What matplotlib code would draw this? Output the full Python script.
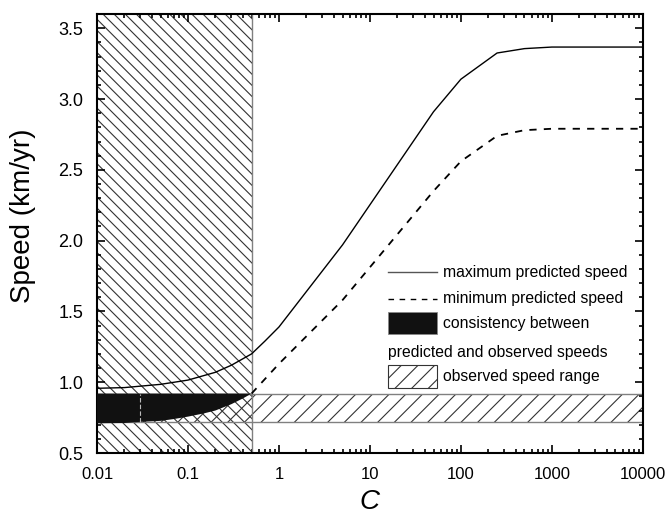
"""Predicted vs observed speed as a function of C."""
import numpy as np
import matplotlib
matplotlib.use("Agg")
import matplotlib.pyplot as plt
from matplotlib.lines import Line2D
from matplotlib.patches import Rectangle
from matplotlib.ticker import MultipleLocator, LogLocator, FixedFormatter, FixedLocator

# maximum predicted speed
c_max = [0.01, 0.02, 0.05, 0.1, 0.2, 0.3, 0.5, 0.7, 1, 5, 50, 100, 250, 500, 1000, 10000]
v_max = [0.957, 0.962, 0.985, 1.015, 1.07, 1.12, 1.2, 1.29, 1.39, 1.97, 2.91, 3.14, 3.325, 3.356, 3.367, 3.367]

# minimum predicted speed (shown dashed for C >= 0.5)
c_min = [0.5, 1, 5, 50, 100, 250, 500, 1000, 10000]
v_min = [0.92, 1.13, 1.58, 2.35, 2.56, 2.74, 2.78, 2.79, 2.79]

# lower edge of the consistency region (minimum speed for C < 0.5)
c_low = [0.01, 0.02, 0.03, 0.05, 0.07, 0.1, 0.15, 0.2, 0.3, 0.4, 0.5]
v_low = [0.71, 0.712, 0.717, 0.727, 0.74, 0.757, 0.78, 0.80, 0.845, 0.885, 0.92]

obs_low, obs_high = 0.72, 0.92   # observed speed range
c_limit = 0.5                    # hatched region C < 0.5
c_mark = 0.03

x_ticks = [0.01, 0.1, 1, 10, 100, 1000, 10000]
x_labels = ["0.01", "0.1", "1", "10", "100", "1000", "10000"]

plt.rcParams.update({
    "font.family": ["Liberation Sans", "DejaVu Sans"],
    "hatch.linewidth": 0.8,
})

fig = plt.figure(figsize=(6.71, 5.21), dpi=100)
ax = fig.add_axes([0.1446, 0.1305, 0.8134, 0.8425])

ax.set_xscale("log")
ax.set_xlim(0.01, 10000)
ax.set_ylim(0.5, 3.6)

# hatched regions
ax.axvspan(0.01, c_limit, facecolor="none", edgecolor="#333333", hatch="\\\\\\", linewidth=0, zorder=1)
ax.axhspan(obs_low, obs_high, facecolor="none", edgecolor="#333333", hatch="//", linewidth=0, zorder=1)
ax.axhline(obs_low, color="#808080", lw=1.0, zorder=2)
ax.axhline(obs_high, color="#808080", lw=1.0, zorder=2)
ax.axvline(c_limit, color="#808080", lw=1.0, zorder=2)

# consistency region
low = np.array(v_low)
low[2:] = np.maximum(low[2:], obs_low)
ax.fill_between(c_low, low, obs_high, facecolor="#111111", edgecolor="none", zorder=3)
ax.vlines(c_mark, obs_low, obs_high, colors="#bbbbbb", linestyles=(0, (4, 2)), lw=0.8, zorder=4)

ax.plot(c_max, v_max, color="black", lw=1.0, zorder=5)
ax.plot(c_min, v_min, color="black", lw=1.3, ls=(0, (4, 4)), zorder=5)

# ticks
ax.xaxis.set_major_locator(FixedLocator(x_ticks))
ax.xaxis.set_major_formatter(FixedFormatter(x_labels))
ax.xaxis.set_minor_locator(LogLocator(base=10, subs=np.arange(2, 10)))
ax.yaxis.set_major_locator(MultipleLocator(0.5))
ax.yaxis.set_minor_locator(MultipleLocator(0.1))
ax.tick_params(which="both", direction="in", top=True, right=True, width=1.2)
ax.tick_params(axis="x", which="major", pad=10, labelsize=12)
ax.tick_params(axis="y", which="major", pad=10, labelsize=13)
ax.tick_params(which="major", length=6)
ax.tick_params(which="minor", length=3)
for s in ax.spines.values():
    s.set_linewidth(1.5)

ax.set_xlabel("C", fontsize=20, fontstyle="italic", labelpad=5)
ax.set_ylabel("Speed (km/yr)", fontsize=20)
ax.yaxis.set_label_coords(-0.112, 0.54)

# legend, drawn by hand
tr = ax.transAxes
x0, x1, xt = 0.533, 0.623, 0.634
fs = 11.3
ax.add_line(Line2D([x0, x1], [0.412, 0.412], color="#555555", lw=1.0, transform=tr, zorder=6))
ax.text(xt, 0.412, "maximum predicted speed", transform=tr, fontsize=fs, va="center", zorder=6)
ax.add_line(Line2D([x0, x1], [0.351, 0.351], color="black", lw=1.0, ls=(0, (4, 4)), transform=tr, zorder=6))
ax.text(xt, 0.351, "minimum predicted speed", transform=tr, fontsize=fs, va="center", zorder=6)
ax.add_patch(Rectangle((x0, 0.270), x1 - x0, 0.052, facecolor="#111111", edgecolor="#888888",
                       lw=0.6, transform=tr, zorder=6))
ax.text(xt, 0.296, "consistency between", transform=tr, fontsize=fs, va="center", zorder=6)
ax.text(x0, 0.230, "predicted and observed speeds", transform=tr, fontsize=fs, va="center", zorder=6)
ax.add_patch(Rectangle((x0, 0.149), x1 - x0, 0.052, facecolor="white", edgecolor="#333333",
                       hatch="//", lw=0.8, transform=tr, zorder=6))
ax.text(xt, 0.175, "observed speed range", transform=tr, fontsize=fs, va="center", zorder=6)

fig.savefig("out.png", dpi=100)
